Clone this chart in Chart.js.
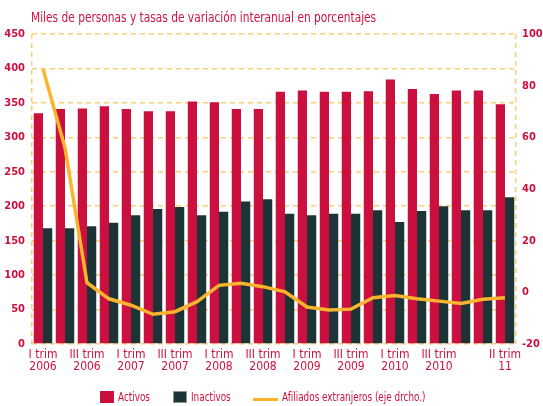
<!DOCTYPE html>
<html lang="es">
<head>
<meta charset="utf-8">
<script src="https://cdn.jsdelivr.net/npm/chart.js@4.4.1/dist/chart.umd.min.js"></script>
<style>
  body { margin: 0; background: #fff; }
  .lienzo { position: relative; width: 543px; height: 406px; }
  #grafico { position: absolute; left: 0; top: 0; }
  .titulo {
    position: absolute; left: 31px; top: 10px;
    font: 14px/14px "DejaVu Sans Condensed", sans-serif;
    color: #cf1141; white-space: nowrap;
    transform: scaleX(0.843); transform-origin: left top;
  }
  .leyenda {
    position: absolute; top: 390px; left: 0;
    font: 12px/12px "DejaVu Sans Condensed", sans-serif;
    color: #cf1141;
  }
  .leyenda span { position: absolute; white-space: nowrap; }
  .leyenda .txt { transform: scaleX(0.82); transform-origin: left top; }
  .caja { width: 14px; height: 12px; box-sizing: border-box; }
</style>
</head>
<body>
<div class="lienzo">
  <canvas id="grafico" width="543" height="406"></canvas>
  <div class="titulo">Miles de personas y tasas de variación interanual en porcentajes</div>
  <div class="leyenda">
    <span class="caja" style="left:100px; top:1px; background:#cb0f3e;"></span>
    <span class="txt" style="left:118px; top:1px;">Activos</span>
    <span class="caja" style="left:173px; top:1px; background:#1c3435; border:1px solid #8a9696;"></span>
    <span class="txt" style="left:191px; top:1px;">Inactivos</span>
    <span style="left:253px; top:8px; width:25px; height:3px; background:#fbb42d;"></span>
    <span class="txt" style="left:282px; top:1px;">Afiliados extranjeros (eje drcho.)</span>
  </div>
</div>
<script>
// trimestres desde I 2006 hasta II 2011
const trimestres = [
  'I 2006', 'II 2006', 'III 2006', 'IV 2006',
  'I 2007', 'II 2007', 'III 2007', 'IV 2007',
  'I 2008', 'II 2008', 'III 2008', 'IV 2008',
  'I 2009', 'II 2009', 'III 2009', 'IV 2009',
  'I 2010', 'II 2010', 'III 2010', 'IV 2010',
  'I 2011', 'II 2011'
];

const etiquetasEje = [
  ['I trim', '2006'], '', ['III trim', '2006'], '',
  ['I trim', '2007'], '', ['III trim', '2007'], '',
  ['I trim', '2008'], '', ['III trim', '2008'], '',
  ['I trim', '2009'], '', ['III trim', '2009'], '',
  ['I trim', '2010'], '', ['III trim', '2010'], '',
  '', ['II trim', '11']
];

const activos = [335, 341, 342, 345, 341, 338, 338, 352, 351, 341, 341, 366,
  368, 366, 366, 367, 384, 370, 363, 368, 368, 348];
const inactivos = [168, 168, 171, 176, 187, 196, 199, 187, 192, 207, 210, 189,
  187, 189, 189, 194, 177, 193, 200, 194, 194, 213];
const afiliados = [86.5, 56, 3.7, -2.5, -5, -8.5, -7.5, -3.6, 2.7, 3.5, 2.2, 0.2,
  -5.7, -6.8, -6.5, -2.1, -1.2, -2.5, -3.4, -4.3, -2.7, -2.1];

const rojo = '#cb0f3e';
const oscuro = '#1c3435';
const naranja = '#fbb42d';
const rejilla = '#fbcf74';
const guiones = [5, 4];
const fuenteEje = { family: '"DejaVu Sans Condensed", sans-serif', size: 11, weight: 'bold' };

const ctx = document.getElementById('grafico').getContext('2d');

new Chart(ctx, {
  type: 'bar',
  data: {
    labels: trimestres,
    datasets: [
      {
        type: 'line',
        label: 'Afiliados extranjeros (eje drcho.)',
        data: afiliados,
        yAxisID: 'y2',
        borderColor: naranja,
        borderWidth: 3.5,
        pointRadius: 0,
        tension: 0,
        order: 0
      },
      {
        label: 'Activos',
        data: activos,
        backgroundColor: rojo,
        yAxisID: 'y',
        categoryPercentage: 0.84,
        barPercentage: 1,
        order: 1
      },
      {
        label: 'Inactivos',
        data: inactivos,
        backgroundColor: oscuro,
        yAxisID: 'y',
        categoryPercentage: 0.84,
        barPercentage: 1,
        order: 1
      }
    ]
  },
  options: {
    responsive: false,
    animation: false,
    devicePixelRatio: 1,
    layout: { padding: { top: 34, bottom: 22, left: 0, right: 0 }, autoPadding: false },
    plugins: {
      legend: { display: false },
      title: { display: false },
      tooltip: { enabled: false }
    },
    scales: {
      x: {
        // solo los bordes izquierdo y derecho, discontinuos
        grid: {
          drawTicks: false,
          lineWidth: 1.5,
          color: (c) => (c.type === 'scale' || c.index === 0) ? rejilla : 'rgba(0,0,0,0)'
        },
        border: { display: false, dash: guiones },
        ticks: {
          autoSkip: false,
          maxRotation: 0,
          padding: 5,
          color: '#cf1141',
          font: { family: '"DejaVu Sans Condensed", sans-serif', size: 12, lineHeight: 1.0 },
          callback: (valor, i) => etiquetasEje[i]
        },
        afterFit: (escala) => { escala.height = 40; }
      },
      y: {
        position: 'left',
        min: 0,
        max: 450,
        ticks: { stepSize: 50, padding: 7, color: '#cb0f3e', font: fuenteEje },
        grid: { color: rejilla, lineWidth: 1.5, drawTicks: false },
        border: { display: false, dash: guiones },
        afterFit: (escala) => { escala.width = 32; }
      },
      y2: {
        position: 'right',
        min: -20,
        max: 100,
        ticks: { stepSize: 20, padding: 6, color: '#cb0f3e', font: fuenteEje },
        grid: { display: false, drawTicks: false },
        border: { display: false },
        afterFit: (escala) => { escala.width = 27; }
      }
    }
  }
});
</script>
</body>
</html>
